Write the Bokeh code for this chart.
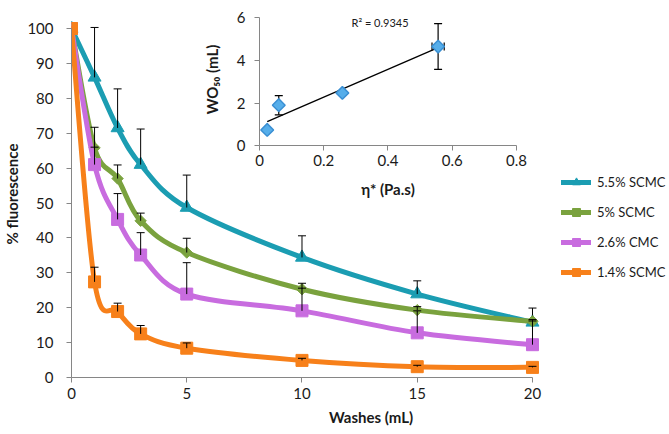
import numpy as np
from bokeh.plotting import figure
from bokeh.models import (Range1d, LinearAxis, FixedTicker, Label, Legend, LegendItem)
from bokeh.embed import file_html
from bokeh.resources import INLINE

# ---------------- data ----------------
washes = [0, 1, 2, 3, 5, 10, 15, 20]
x_ticks = [0, 5, 10, 15, 20]
y_ticks = [0, 10, 20, 30, 40, 50, 60, 70, 80, 90, 100]

series_names = ["5.5% SCMC", "5% SCMC", "2.6% CMC", "1.4% SCMC"]
scmc55 = [100, 86.0, 71.5, 61.0, 48.7, 34.4, 23.9, 15.8]
scmc55_err = [0, 14.3, 11.2, 10.2, 9.3, 6.2, 3.8, 4.1]
scmc5 = [100, 65.8, 57.0, 44.9, 35.8, 25.3, 19.3, 16.1]
scmc5_err = [0, 5.9, 3.9, 2.2, 4.1, 1.7, 1.0, 0.5]
cmc26 = [100, 61.0, 45.3, 35.1, 23.9, 19.1, 12.8, 9.4]
cmc26_err = [0, 5.0, 7.4, 6.4, 9.0, 6.5, 6.3, 6.8]
scmc14 = [100, 27.4, 18.9, 12.5, 8.4, 4.9, 3.1, 2.9]
scmc14_err = [0, 4.2, 2.4, 2.4, 1.5, 0.6, 0.4, 0.3]

# inset
eta = [0.024, 0.06, 0.258, 0.556]
wo50 = [0.74, 1.9, 2.47, 4.64]
wo50_err = [0, 0.45, 0, 1.07]
eta_err = [0, 0, 0, 0.019]
inset_x_ticks = [0, 0.2, 0.4, 0.6, 0.8]
inset_x_labels = ["0", "0.2", "0.4", "0.6", "0.8"]
inset_y_ticks = [0, 2, 4, 6]
r2_text = "R\u00b2 = 0.9345"

# ---------------- style ----------------
FONT = "Lato"
TXT = "#1a1a1a"
AXC = "#868686"
colors = ["#1B9DB2", "#7AA23E", "#C86CDF", "#F7801A"]

p = figure(frame_width=599, frame_height=367,
           x_range=Range1d(0, 25.987), y_range=Range1d(0, 105.16),
           output_backend="svg", toolbar_location=None,
           min_border_left=70, min_border_right=0,
           min_border_top=10, min_border_bottom=57)
p.outline_line_color = None
p.xgrid.visible = False
p.ygrid.visible = False
p.background_fill_color = "white"

p.extra_x_ranges = {"ix": Range1d(-0.5852, 1.2794)}
p.extra_y_ranges = {"iy": Range1d(-10.836, 6.327)}


def style_axis(ax, standoff):
    ax.axis_line_color = AXC
    ax.major_tick_line_color = AXC
    ax.minor_tick_line_color = None
    ax.major_tick_in = 0
    ax.major_tick_out = 5
    ax.major_label_text_font = FONT
    ax.major_label_text_font_size = "15px"
    ax.major_label_text_color = TXT
    ax.major_label_standoff = standoff


xa = p.xaxis[0]
xa.ticker = FixedTicker(ticks=x_ticks)
xa.bounds = (0, 20)
style_axis(xa, 5)
xa.axis_label = "Washes (mL)"
xa.axis_label_text_font = FONT
xa.axis_label_text_font_size = "15px"
xa.axis_label_text_font_style = "bold"
xa.axis_label_text_color = TXT
xa.axis_label_standoff = 6

ya = p.yaxis[0]
ya.ticker = FixedTicker(ticks=y_ticks)
ya.bounds = (0, 100)
style_axis(ya, 13)
ya.axis_label = "% fluorescence"
ya.axis_label_text_font = FONT
ya.axis_label_text_font_size = "15px"
ya.axis_label_text_font_style = "bold"
ya.axis_label_text_color = TXT
ya.axis_label_standoff = 3


# smooth (Excel-like) curves as cubic Bezier segments through the data points
def bezier_segments(xs, ys):
    xs = np.asarray(xs, float)
    ys = np.asarray(ys, float)
    n = len(xs)
    out = {k: [] for k in ["x0", "y0", "x1", "y1", "cx0", "cy0", "cx1", "cy1"]}
    for i in range(n - 1):
        ip = i - 1 if i > 0 else i
        inn = i + 2 if i + 2 < n else i + 1
        out["x0"].append(xs[i]); out["y0"].append(ys[i])
        out["x1"].append(xs[i + 1]); out["y1"].append(ys[i + 1])
        out["cx0"].append(xs[i] + (xs[i + 1] - xs[ip]) / 6)
        out["cy0"].append(ys[i] + (ys[i + 1] - ys[ip]) / 6)
        out["cx1"].append(xs[i + 1] - (xs[inn] - xs[i]) / 6)
        out["cy1"].append(ys[i + 1] - (ys[inn] - ys[i]) / 6)
    return out


all_series = [scmc55, scmc5, cmc26, scmc14]
all_errs = [scmc55_err, scmc5_err, cmc26_err, scmc14_err]
markers = [("triangle", 13, 0.0), ("square", 8, np.pi / 4), ("square", 12, 0.0), ("square", 12, 0.0)]

legend_items = []
for name, ys, errs, col, (mk, ms, ang) in zip(series_names, all_series, all_errs, colors, markers):
    seg = bezier_segments(washes, ys)
    lr = p.bezier(line_color=col, line_width=5, line_cap="round", **seg)
    sr = p.scatter(washes, ys, marker=mk, size=ms, angle=ang, fill_color=col, line_color=col)
    ex = [x for x, e in zip(washes, errs) if e > 0]
    ey0 = [y for y, e in zip(ys, errs) if e > 0]
    ey1 = [y + e for y, e in zip(ys, errs) if e > 0]
    p.segment(x0=ex, y0=ey0, x1=ex, y1=ey1, line_color="black", line_width=1)
    p.scatter(ex, ey1, marker="dash", size=8, line_color="black", line_width=1)
    legend_items.append(LegendItem(label=name, renderers=[lr, sr]))

legend = Legend(items=legend_items, location=(490, 95.3), orientation="vertical",
                glyph_width=30, glyph_height=20, label_height=20, spacing=10,
                padding=0, margin=0, border_line_color=None, background_fill_alpha=0,
                label_text_font=FONT, label_text_font_size="13px", label_text_color=TXT,
                label_standoff=6)
p.add_layout(legend)

# ---------------- inset ----------------
ixa = LinearAxis(x_range_name="ix", y_range_name="iy", fixed_location=0, bounds=(0, 0.8),
                 ticker=FixedTicker(ticks=inset_x_ticks),
                 major_label_overrides={t: l for t, l in zip(inset_x_ticks, inset_x_labels)})
style_axis(ixa, 4)
p.add_layout(ixa, "below")

iya = LinearAxis(x_range_name="ix", y_range_name="iy", fixed_location=0, bounds=(0, 6),
                 ticker=FixedTicker(ticks=inset_y_ticks))
style_axis(iya, 9)
p.add_layout(iya, "left")

coef = np.polyfit(eta, wo50, 1)
tx = [min(eta), max(eta)]
p.line(tx, list(np.polyval(coef, tx)), x_range_name="ix", y_range_name="iy",
       line_color="black", line_width=1.3)

# inset error bars
vx = [x for x, e in zip(eta, wo50_err) if e > 0]
vy0 = [y - e for y, e in zip(wo50, wo50_err) if e > 0]
vy1 = [y + e for y, e in zip(wo50, wo50_err) if e > 0]
p.segment(x0=vx, y0=vy0, x1=vx, y1=vy1, line_color="black", line_width=1.2,
          x_range_name="ix", y_range_name="iy")
p.scatter(vx + vx, vy0 + vy1, marker="dash", size=8, line_color="black", line_width=1.2,
          x_range_name="ix", y_range_name="iy")
hy = [y for y, e in zip(wo50, eta_err) if e > 0]
hx0 = [x - e for x, e in zip(eta, eta_err) if e > 0]
hx1 = [x + e for x, e in zip(eta, eta_err) if e > 0]
p.segment(x0=hx0, y0=hy, x1=hx1, y1=hy, line_color="black", line_width=1.2,
          x_range_name="ix", y_range_name="iy")
p.scatter(hx0 + hx1, hy + hy, marker="dash", size=8, angle=np.pi / 2, line_color="black",
          line_width=1.2, x_range_name="ix", y_range_name="iy")

p.scatter(eta, wo50, marker="square", size=9, angle=np.pi / 4, fill_color="#56AEEA",
          line_color="#3A8FD3", line_width=1.5, x_range_name="ix", y_range_name="iy")

p.add_layout(Label(x=0.2864, y=5.77, x_range_name="ix", y_range_name="iy", text=r2_text,
                   text_align="left", text_baseline="middle", text_font=FONT,
                   text_font_size="11px", text_color=TXT))
p.add_layout(Label(x=0.40, y=-2.0, x_range_name="ix", y_range_name="iy", text="\u03b7* (Pa.s)",
                   text_align="center", text_baseline="middle", text_font=FONT,
                   text_font_size="15px", text_font_style="bold", text_color=TXT))
p.add_layout(Label(x=-0.149, y=3.1, x_range_name="ix", y_range_name="iy",
                   text="WO\u2085\u2080 (mL)", angle=np.pi / 2,
                   text_align="center", text_baseline="middle", text_font=FONT,
                   text_font_size="15px", text_font_style="bold", text_color=TXT))

open("out.html", "w").write(file_html(p, INLINE))
